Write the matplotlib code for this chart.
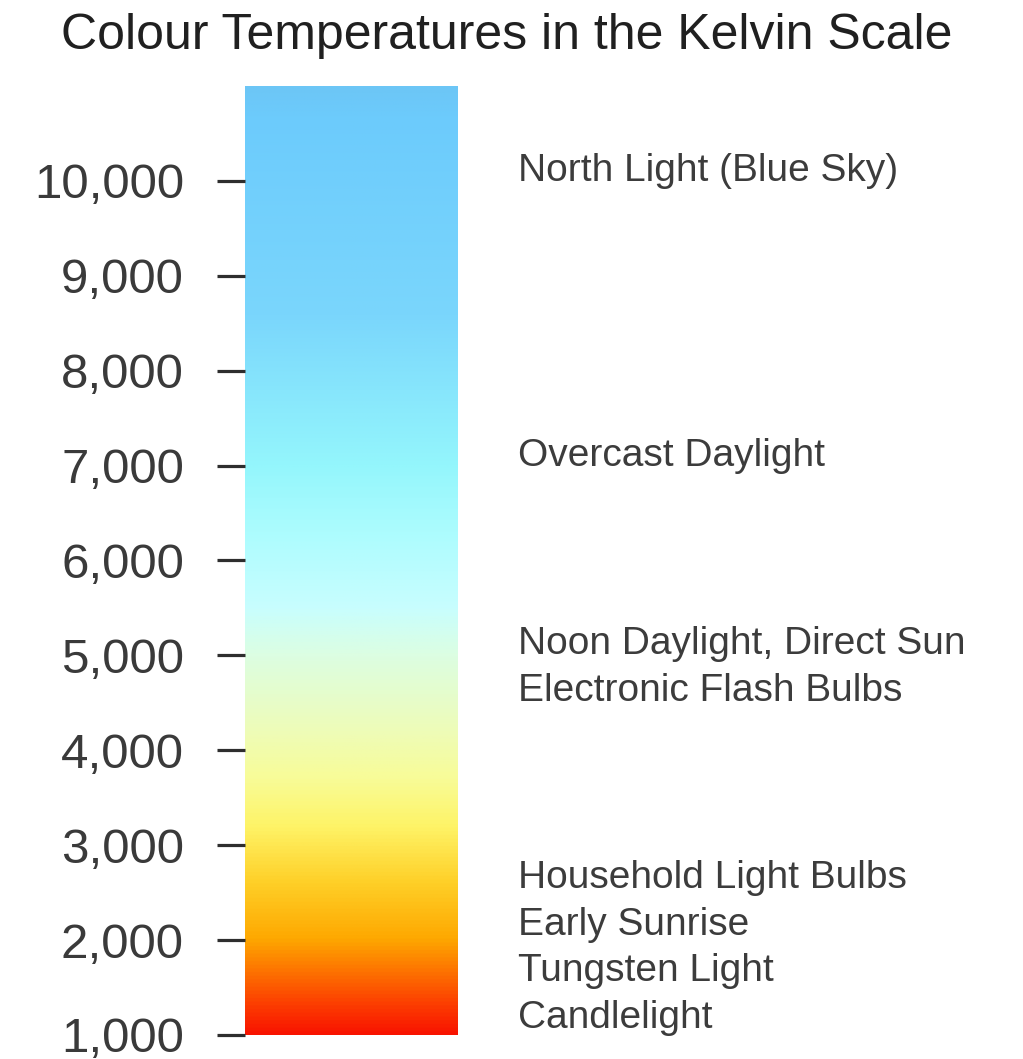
#%%
import numpy as np
import matplotlib
matplotlib.use('Agg')
import matplotlib.pyplot as plt
from matplotlib.colors import LinearSegmentedColormap
import matplotlib.transforms as mtransforms

#%%
# kelvin scale ticks
ticks = [1000, 2000, 3000, 4000, 5000, 6000, 7000, 8000, 9000, 10000]
tick_labels = ['1,000', '2,000', '3,000', '4,000', '5,000', '6,000', '7,000', '8,000', '9,000', '10,000']
kelvin_min = 1000
kelvin_max = 11000

# light sources and where their label sits on the scale
sources = ['North Light (Blue Sky)', 'Overcast Daylight', 'Noon Daylight, Direct Sun',
           'Electronic Flash Bulbs', 'Household Light Bulbs', 'Early Sunrise',
           'Tungsten Light', 'Candlelight']
source_k = [10100, 7100, 5120, 4620, 2650, 2160, 1670, 1180]

# colour stops along the bar (kelvin -> colour)
stop_k = [1000, 1300, 2000, 2600, 3200, 3700, 4200, 5000, 5500, 6300, 7000, 8600, 10700, 11000]
stop_c = ['#f81400', '#fc3c00', '#fea800', '#fed028', '#fef468', '#f8fc98', '#eefcb8',
          '#dcfee2', '#c8fefe', '#acfcfe', '#94f6fc', '#7ad6fc', '#6ccbfc', '#6cc6f6']

#%%
pos = [(k - kelvin_min) / (kelvin_max - kelvin_min) for k in stop_k]
cmap = LinearSegmentedColormap.from_list('kelvin', list(zip(pos, stop_c)))

fig = plt.figure(figsize=(10.23, 10.59), dpi=100)
ax = fig.add_axes([0.2395, 0.0227, 0.2082, 0.8961])

grad = np.linspace(kelvin_min, kelvin_max, 512).reshape(-1, 1)
ax.imshow(grad, cmap=cmap, aspect='auto', origin='lower',
          extent=[0, 1, kelvin_min, kelvin_max], vmin=kelvin_min, vmax=kelvin_max)
ax.set_xlim(0, 1)
ax.set_ylim(kelvin_min, kelvin_max)

for s in ax.spines.values():
    s.set_visible(False)
ax.set_xticks([])
ax.set_yticks(ticks)
ax.set_yticklabels(tick_labels, fontsize=35.5, color='#3a3a3a', family='Liberation Sans')
ax.tick_params(axis='y', length=20, width=2.3, color='#2e2e2e', pad=24)

#%%
# labels to the right of the bar
trans = mtransforms.blended_transform_factory(ax.transAxes, ax.transData)
for name, k in zip(sources, source_k):
    ax.text(1.282, k, name, transform=trans, fontsize=28, color='#3c3c3c',
            family='Liberation Sans', va='center', ha='left', clip_on=False)

fig.text(0.495, 0.966, 'Colour Temperatures in the Kelvin Scale', fontsize=36,
         color='#202020', family='Liberation Sans', ha='center', va='center')

fig.savefig('out.png', dpi=100, facecolor='white')
